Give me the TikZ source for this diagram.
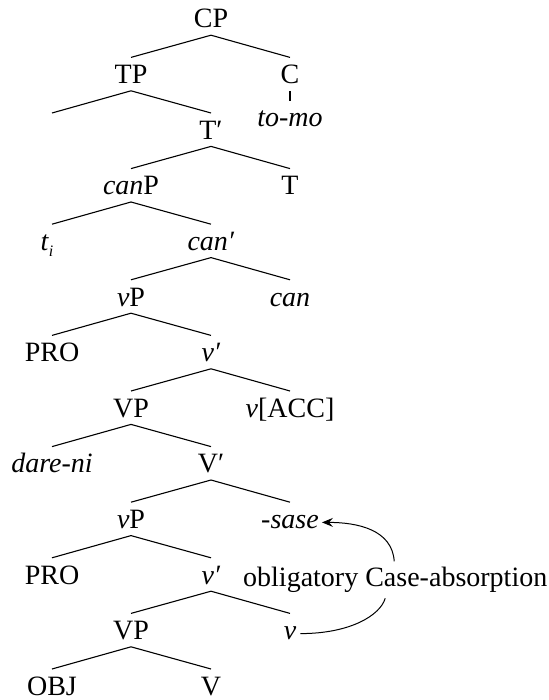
\documentclass[tikz,border=0pt]{standalone}
\usepackage{fontspec}
\setmainfont{Liberation Serif}
\usetikzlibrary{calc,arrows.meta}
\tikzset{
  tn/.style={anchor=base, inner sep=0pt, text height=26pt, text depth=7pt, font=\fontsize{28}{30}\selectfont},
  br/.style={line width=1.1pt},
  arc/.style={line width=1pt},
}
\newcommand{\subi}{\raisebox{-6pt}{\fontsize{16}{16}\selectfont\itshape i}}
\begin{document}
\begin{tikzpicture}[x=1pt,y=-1pt]
\useasboundingbox (0,0) rectangle (548,700);
% level 0
\node[tn] (CP) at (211,28) {CP};
% level 1
\node[tn] (TP) at (131,83.6) {TP};
\node[tn] (C) at (290,83.6) {C};
\node[tn] (tomo) at (290,127) {\textit{to-mo}};
% level 2
\node[tn] (e1) at (52,139.2) {};
\node[tn] (Tb) at (211,139.2) {T′};
% level 3
\node[tn] (canP) at (131,194.8) {\textit{can}P};
\node[tn] (T) at (290,194.8) {T};
% level 4
\node[tn] (ti) at (47,250.4) {\textit{t}\subi};
\node[tn] (canb) at (211,250.4) {\textit{can′}};
% level 5
\node[tn] (vP1) at (131,306) {\textit{v}P};
\node[tn] (can) at (290,306) {\textit{can}};
% level 6
\node[tn] (PRO1) at (52,361.6) {PRO};
\node[tn] (vb1) at (211,361.6) {\textit{v′}};
% level 7
\node[tn] (VP1) at (131,417.2) {VP};
\node[tn] (vacc) at (290,417.2) {\textit{v}[ACC]};
% level 8
\node[tn] (dare) at (52,472.8) {\textit{dare-ni}};
\node[tn] (Vb) at (211,472.8) {V′};
% level 9
\node[tn] (vP2) at (131,528.4) {\textit{v}P};
\node[tn] (sase) at (290,528.4) {\textit{-sase}};
% level 10
\node[tn] (PRO2) at (52,584) {PRO};
\node[tn] (vb2) at (211,584) {\textit{v′}};
% level 11
\node[tn] (VP2) at (131,639.6) {VP};
\node[tn] (v) at (290,639.6) {\textit{v}};
% level 12
\node[tn] (OBJ) at (52,695.2) {OBJ};
\node[tn] (V) at (211,695.2) {V};
% label
\node[anchor=base west, inner sep=0pt, font=\fontsize{28}{30}\selectfont] (lab) at (243,586) {obligatory Case-absorption};

% branches
\draw[br] (CP.south) -- (TP.north);
\draw[br] (CP.south) -- (C.north);
\draw[br] (C.south) -- (tomo.north);
\draw[br] (TP.south) -- (e1.north);
\draw[br] (TP.south) -- (Tb.north);
\draw[br] (Tb.south) -- (canP.north);
\draw[br] (Tb.south) -- (T.north);
\draw[br] (canP.south) -- ([xshift=5pt]ti.north);
\draw[br] (canP.south) -- (canb.north);
\draw[br] (canb.south) -- (vP1.north);
\draw[br] (canb.south) -- (can.north);
\draw[br] (vP1.south) -- (PRO1.north);
\draw[br] (vP1.south) -- (vb1.north);
\draw[br] (vb1.south) -- (VP1.north);
\draw[br] (vb1.south) -- (vacc.north);
\draw[br] (VP1.south) -- (dare.north);
\draw[br] (VP1.south) -- (Vb.north);
\draw[br] (Vb.south) -- (vP2.north);
\draw[br] (Vb.south) -- (sase.north);
\draw[br] (vP2.south) -- (PRO2.north);
\draw[br] (vP2.south) -- (vb2.north);
\draw[br] (vb2.south) -- (VP2.north);
\draw[br] (vb2.south) -- (v.north);
\draw[br] (VP2.south) -- (OBJ.north);
\draw[br] (VP2.south) -- (V.north);

% case absorption arc
\coordinate (vs) at ($(v.base east)+(4,-6)$);
\coordinate (lb) at ($(lab.south)+(-10,6)$);
\coordinate (lt) at ($(lab.north)+(-1,-5)$);
\coordinate (se) at ($(sase.base east)+(3,-6)$);
\draw[arc] (vs) .. controls ($(vs)+(50,0)$) and ($(lb)+(-5,17)$) .. (lb);
\draw[arc,-{Stealth[length=11pt,width=9pt,inset=4pt]}] (lt) .. controls ($(lt)+(-2,-32)$) and ($(se)+(35,0)$) .. (se);
\end{tikzpicture}
\end{document}
